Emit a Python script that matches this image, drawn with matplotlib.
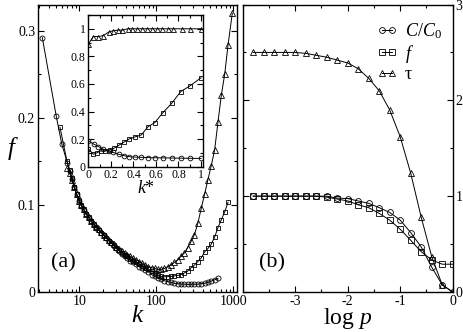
import matplotlib
matplotlib.use('Agg')
import matplotlib.pyplot as plt
from matplotlib.ticker import MultipleLocator, LogLocator, NullFormatter, FixedLocator, FixedFormatter

plt.rcParams['font.family'] = 'serif'
plt.rcParams['font.serif'] = ['Liberation Serif', 'DejaVu Serif']
plt.rcParams['mathtext.fontset'] = 'custom'
plt.rcParams['mathtext.rm'] = 'Liberation Serif'
plt.rcParams['mathtext.it'] = 'Liberation Serif:italic'
plt.rcParams['axes.unicode_minus'] = False

# ---- panel (a): f vs k ----
k_circ = [3.3, 5.0, 5.9, 7.0, 7.5, 8.0, 8.6, 9.2, 9.9, 10.6, 11.4, 12.3, 13.2, 14.2,
          15.3, 16.5, 17.8, 19.2, 20.7, 22.3, 24.0, 26, 28, 30, 33, 36, 39, 42, 46,
          50, 55, 60, 66, 72, 79, 87, 95, 104, 115, 127, 140, 155, 172, 190, 210,
          232, 256, 283, 313, 346, 383, 423, 468, 517, 572, 632]
f_circ = [0.292, 0.202, 0.170, 0.148, 0.139, 0.130, 0.120, 0.112, 0.105, 0.099, 0.094,
          0.089, 0.085, 0.081, 0.077, 0.074, 0.071, 0.068, 0.065, 0.062, 0.059, 0.056,
          0.053, 0.050, 0.047, 0.044, 0.041, 0.039, 0.036, 0.034, 0.032, 0.029, 0.027,
          0.025, 0.023, 0.020, 0.018, 0.016, 0.0145, 0.013, 0.012, 0.011, 0.010, 0.0095,
          0.009, 0.009, 0.0088, 0.0088, 0.009, 0.009, 0.0095, 0.010, 0.011, 0.0125,
          0.014, 0.0155]

k_sq = [5.6, 6.9, 7.5, 8.0, 8.6, 9.2, 9.9, 10.6, 11.4, 12.3, 13.2, 14.2, 15.3, 16.5,
        17.8, 19.2, 20.7, 22.3, 24.0, 26, 28, 30, 33, 36, 39, 42, 46, 50, 55, 60, 66,
        72, 79, 87, 95, 104, 115, 127, 140, 155, 172, 190, 210, 232, 256, 283, 313,
        346, 383, 423, 468, 517, 572, 632, 699, 773, 855]
f_sq = [0.189, 0.150, 0.140, 0.131, 0.121, 0.113, 0.106, 0.100, 0.095, 0.090, 0.086,
        0.082, 0.078, 0.075, 0.071, 0.068, 0.065, 0.062, 0.059, 0.056, 0.054, 0.051,
        0.048, 0.045, 0.043, 0.041, 0.038, 0.036, 0.034, 0.032, 0.030, 0.028, 0.026,
        0.024, 0.022, 0.020, 0.018, 0.0175, 0.0176, 0.018, 0.0185, 0.019, 0.020, 0.022,
        0.024, 0.028, 0.031, 0.035, 0.039, 0.046, 0.050, 0.055, 0.063, 0.074, 0.083,
        0.092, 0.103]

k_tri = [7.0, 7.5, 8.0, 8.6, 9.2, 9.9, 10.6, 11.4, 12.3, 13.2, 14.2, 15.3, 16.5, 17.8,
         19.2, 20.7, 22.3, 24.0, 26, 28, 30, 33, 36, 39, 42, 46, 50, 55, 60, 66, 72,
         79, 87, 95, 104, 115, 127, 140, 155, 172, 190, 210, 232, 256, 283, 313, 346,
         383, 423, 468, 517, 572, 632, 699, 773, 855, 970]
f_tri = [0.142, 0.137, 0.129, 0.120, 0.112, 0.105, 0.100, 0.095, 0.090, 0.086, 0.082,
         0.078, 0.075, 0.072, 0.069, 0.066, 0.063, 0.060, 0.057, 0.055, 0.052, 0.049,
         0.047, 0.045, 0.043, 0.041, 0.039, 0.037, 0.035, 0.033, 0.031, 0.029, 0.028,
         0.027, 0.026, 0.026, 0.027, 0.029, 0.031, 0.034, 0.037, 0.041, 0.045, 0.051,
         0.058, 0.066, 0.079, 0.096, 0.112, 0.129, 0.145, 0.163, 0.195, 0.226, 0.250,
         0.284, 0.320]

# ---- inset: vs k* ----
ks_circ = [0.0, 0.05, 0.09, 0.13, 0.18, 0.22, 0.27, 0.32, 0.36, 0.41, 0.47, 0.53, 0.59,
           0.66, 0.74, 0.82, 0.90, 1.0]
in_circ = [0.187, 0.163, 0.146, 0.128, 0.114, 0.104, 0.09, 0.08, 0.073, 0.07, 0.068,
           0.066, 0.065, 0.064, 0.063, 0.062, 0.061, 0.06]
ks_sq = [0.0, 0.045, 0.075, 0.11, 0.15, 0.19, 0.23, 0.27, 0.32, 0.36, 0.41, 0.47, 0.53,
         0.59, 0.66, 0.74, 0.82, 0.90, 1.0]
in_sq = [0.13, 0.09, 0.10, 0.115, 0.115, 0.12, 0.135, 0.155, 0.18, 0.20, 0.215, 0.23,
         0.29, 0.32, 0.39, 0.46, 0.545, 0.585, 0.645]
ks_tri = [0.0, 0.044, 0.09, 0.13, 0.18, 0.215, 0.26, 0.30, 0.35, 0.385, 0.432, 0.474,
          0.518, 0.562, 0.607, 0.657, 0.704, 0.749, 0.829, 0.902, 1.0]
in_tri = [0.888, 0.944, 0.944, 0.95, 0.975, 0.985, 0.99, 0.99, 1.0, 1.0, 1.0, 1.0, 1.0,
          1.0, 1.0, 1.0, 1.0, 1.0, 1.0, 1.0, 1.0]

# ---- panel (b): vs log p ----
logp = [-3.8, -3.6, -3.4, -3.2, -3.0, -2.8, -2.6, -2.4, -2.2, -2.0, -1.8, -1.6, -1.4,
        -1.2, -1.0, -0.8, -0.6, -0.4, -0.2, 0.0]
C_b = [1.0, 1.0, 1.0, 1.0, 1.0, 1.0, 1.0, 1.0, 0.98, 0.975, 0.95, 0.925, 0.88, 0.83,
       0.75, 0.62, 0.47, 0.26, 0.075, 0.0]
f_b = [1.0, 1.0, 1.0, 1.0, 1.0, 1.0, 1.0, 0.99, 0.97, 0.95, 0.91, 0.88, 0.82, 0.75,
       0.655, 0.54, 0.42, 0.335, 0.29, 0.29]
tau_b = [2.5, 2.5, 2.5, 2.5, 2.5, 2.49, 2.47, 2.45, 2.42, 2.39, 2.33, 2.23, 2.10, 1.90,
         1.62, 1.24, 0.78, 0.37, 0.075, 0.0]

W, H = 463, 332
fig = plt.figure(figsize=(W / 100, H / 100), dpi=100)

def px_axes(l, t, r, b):
    return fig.add_axes([l / W, 1 - b / H, (r - l) / W, (b - t) / H])

def style(ax, lab=9.5):
    ax.tick_params(which='both', direction='in', top=True, right=True,
                   labelsize=lab, pad=2, width=0.8)
    ax.tick_params(which='major', length=4)
    ax.tick_params(which='minor', length=2.2)
    for s in ax.spines.values():
        s.set_linewidth(1.0)

mk = dict(color='k', mfc='none', mec='k', lw=0.7, mew=0.6)

axa = px_axes(38, 4.5, 236.5, 292)
axa.plot(k_circ, f_circ, marker='o', ms=3.6, **mk)
axa.plot(k_sq, f_sq, marker='s', ms=3.2, **mk)
axa.plot(k_tri, f_tri, marker='^', ms=3.8, **mk)
axa.set_xscale('log')
axa.set_xlim(2.9, 1100)
axa.set_ylim(0, 0.33)
axa.xaxis.set_major_locator(FixedLocator([10, 100, 1000]))
axa.xaxis.set_major_formatter(FixedFormatter(['10', '100', '1000']))
axa.xaxis.set_minor_locator(LogLocator(base=10, subs=range(2, 10)))
axa.xaxis.set_minor_formatter(NullFormatter())
axa.yaxis.set_major_locator(FixedLocator([0, 0.1, 0.2, 0.3]))
axa.yaxis.set_major_formatter(FixedFormatter(['0', '0.1', '0.2', '0.3']))
axa.yaxis.set_minor_locator(MultipleLocator(0.05))
style(axa, 10)
axa.set_xlabel('$k$', fontsize=18, labelpad=-2)
axa.set_ylabel('$f$', fontsize=18, labelpad=4, rotation=0, va='center')
axa.text(0.13, 0.1, '(a)', transform=axa.transAxes, fontsize=16, ha='center', va='center')

axi = px_axes(88.3, 15, 203.3, 166.7)
axi.plot(ks_circ, in_circ, marker='o', ms=3.4, **mk)
axi.plot(ks_sq, in_sq, marker='s', ms=3.0, **mk)
axi.plot(ks_tri, in_tri, marker='^', ms=3.6, **mk)
axi.set_xlim(0, 1.02)
axi.set_ylim(0, 1.1)
axi.xaxis.set_major_locator(FixedLocator([0, 0.2, 0.4, 0.6, 0.8, 1.0]))
axi.xaxis.set_major_formatter(FixedFormatter(['0', '0.2', '0.4', '0.6', '0.8', '1']))
axi.xaxis.set_minor_locator(MultipleLocator(0.1))
axi.yaxis.set_major_locator(FixedLocator([0, 0.2, 0.4, 0.6, 0.8, 1.0]))
axi.yaxis.set_major_formatter(FixedFormatter(['0', '0.2', '0.4', '0.6', '0.8', '1']))
axi.yaxis.set_minor_locator(MultipleLocator(0.1))
style(axi, 8.5)
axi.set_xlabel('$k$*', fontsize=13, labelpad=-1)

axb = px_axes(242.7, 4.5, 452.7, 292)
axb.plot(logp, C_b, marker='o', ms=4.2, label='$C/C_{0}$', **mk)
axb.plot(logp, f_b, marker='s', ms=3.8, label='$f$', **mk)
axb.plot(logp, tau_b, marker='^', ms=4.4, label='τ', **mk)
axb.set_xlim(-4, 0)
axb.set_ylim(0, 3)
axb.xaxis.set_major_locator(FixedLocator([-3, -2, -1, 0]))
axb.xaxis.set_minor_locator(MultipleLocator(0.5))
axb.yaxis.set_major_locator(FixedLocator([0, 1, 2, 3]))
axb.yaxis.set_minor_locator(MultipleLocator(0.5))
style(axb, 10)
axb.tick_params(axis='y', which='both', labelleft=False, labelright=True)
axb.set_xlabel('log $p$', fontsize=17, labelpad=-1)
axb.text(0.14, 0.1, '(b)', transform=axb.transAxes, fontsize=16, ha='center', va='center')
axb.legend(loc='upper right', bbox_to_anchor=(1.0, 0.98), frameon=False, numpoints=2,
           handlelength=1.2, handletextpad=0.4, labelspacing=0.1, fontsize=13,
           borderaxespad=0.2)

fig.savefig('out.png', dpi=100)
